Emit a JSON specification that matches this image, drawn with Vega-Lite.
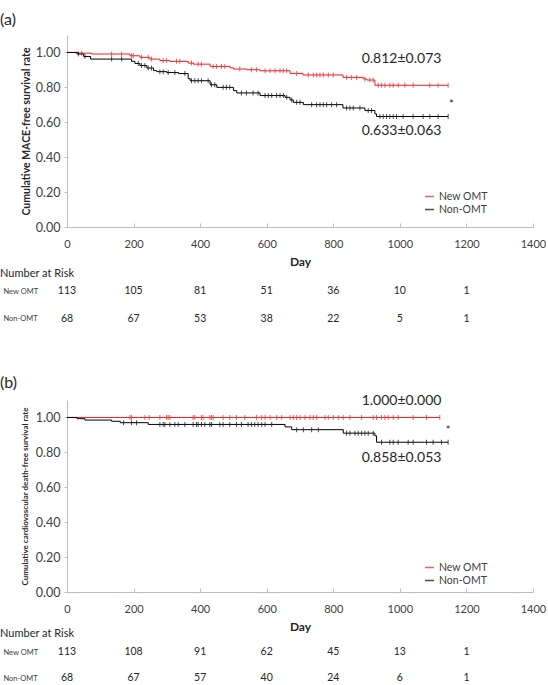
{
  "$schema": "https://vega.github.io/schema/vega-lite/v6.json",
  "padding": {"left": 0, "top": 12, "right": 0, "bottom": 0},
  "config": {
    "font": "Lato",
    "view": {"stroke": null},
    "axis": {"grid": false, "domainColor": "#bfbfbf", "tickColor": "#bfbfbf", "labelColor": "#404040", "titleColor": "#262626", "labelFont": "Lato", "titleFont": "Lato"},
    "title": {"font": "Lato", "color": "#262626", "fontWeight": "normal"},
    "legend": {"labelFont": "Lato"}
  },
  "datasets": {
    "km": [
      {"panel": "a", "group": "New OMT", "day": 0, "surv": 1.0, "censored": 0},
      {"panel": "a", "group": "New OMT", "day": 34, "surv": 0.996, "censored": 0},
      {"panel": "a", "group": "New OMT", "day": 44, "surv": 0.996, "censored": 1},
      {"panel": "a", "group": "New OMT", "day": 74, "surv": 0.991, "censored": 0},
      {"panel": "a", "group": "New OMT", "day": 134, "surv": 0.991, "censored": 1},
      {"panel": "a", "group": "New OMT", "day": 164, "surv": 0.991, "censored": 1},
      {"panel": "a", "group": "New OMT", "day": 189, "surv": 0.981, "censored": 0},
      {"panel": "a", "group": "New OMT", "day": 194, "surv": 0.981, "censored": 1},
      {"panel": "a", "group": "New OMT", "day": 199, "surv": 0.981, "censored": 1},
      {"panel": "a", "group": "New OMT", "day": 219, "surv": 0.972, "censored": 0},
      {"panel": "a", "group": "New OMT", "day": 224, "surv": 0.972, "censored": 1},
      {"panel": "a", "group": "New OMT", "day": 244, "surv": 0.972, "censored": 1},
      {"panel": "a", "group": "New OMT", "day": 249, "surv": 0.962, "censored": 0},
      {"panel": "a", "group": "New OMT", "day": 254, "surv": 0.962, "censored": 1},
      {"panel": "a", "group": "New OMT", "day": 279, "surv": 0.954, "censored": 0},
      {"panel": "a", "group": "New OMT", "day": 289, "surv": 0.954, "censored": 1},
      {"panel": "a", "group": "New OMT", "day": 299, "surv": 0.954, "censored": 1},
      {"panel": "a", "group": "New OMT", "day": 309, "surv": 0.949, "censored": 0},
      {"panel": "a", "group": "New OMT", "day": 329, "surv": 0.949, "censored": 1},
      {"panel": "a", "group": "New OMT", "day": 339, "surv": 0.949, "censored": 1},
      {"panel": "a", "group": "New OMT", "day": 364, "surv": 0.939, "censored": 0},
      {"panel": "a", "group": "New OMT", "day": 374, "surv": 0.939, "censored": 1},
      {"panel": "a", "group": "New OMT", "day": 380, "surv": 0.933, "censored": 0},
      {"panel": "a", "group": "New OMT", "day": 394, "surv": 0.933, "censored": 1},
      {"panel": "a", "group": "New OMT", "day": 404, "surv": 0.933, "censored": 1},
      {"panel": "a", "group": "New OMT", "day": 430, "surv": 0.92, "censored": 0},
      {"panel": "a", "group": "New OMT", "day": 439, "surv": 0.92, "censored": 1},
      {"panel": "a", "group": "New OMT", "day": 449, "surv": 0.92, "censored": 1},
      {"panel": "a", "group": "New OMT", "day": 464, "surv": 0.92, "censored": 1},
      {"panel": "a", "group": "New OMT", "day": 474, "surv": 0.92, "censored": 1},
      {"panel": "a", "group": "New OMT", "day": 490, "surv": 0.912, "censored": 0},
      {"panel": "a", "group": "New OMT", "day": 500, "surv": 0.905, "censored": 0},
      {"panel": "a", "group": "New OMT", "day": 519, "surv": 0.905, "censored": 1},
      {"panel": "a", "group": "New OMT", "day": 540, "surv": 0.901, "censored": 0},
      {"panel": "a", "group": "New OMT", "day": 554, "surv": 0.901, "censored": 1},
      {"panel": "a", "group": "New OMT", "day": 569, "surv": 0.901, "censored": 1},
      {"panel": "a", "group": "New OMT", "day": 580, "surv": 0.895, "censored": 0},
      {"panel": "a", "group": "New OMT", "day": 595, "surv": 0.895, "censored": 1},
      {"panel": "a", "group": "New OMT", "day": 610, "surv": 0.895, "censored": 1},
      {"panel": "a", "group": "New OMT", "day": 625, "surv": 0.895, "censored": 1},
      {"panel": "a", "group": "New OMT", "day": 640, "surv": 0.895, "censored": 1},
      {"panel": "a", "group": "New OMT", "day": 650, "surv": 0.895, "censored": 1},
      {"panel": "a", "group": "New OMT", "day": 660, "surv": 0.895, "censored": 1},
      {"panel": "a", "group": "New OMT", "day": 670, "surv": 0.88, "censored": 0},
      {"panel": "a", "group": "New OMT", "day": 690, "surv": 0.88, "censored": 1},
      {"panel": "a", "group": "New OMT", "day": 709, "surv": 0.871, "censored": 0},
      {"panel": "a", "group": "New OMT", "day": 725, "surv": 0.871, "censored": 1},
      {"panel": "a", "group": "New OMT", "day": 740, "surv": 0.871, "censored": 1},
      {"panel": "a", "group": "New OMT", "day": 750, "surv": 0.871, "censored": 1},
      {"panel": "a", "group": "New OMT", "day": 760, "surv": 0.871, "censored": 1},
      {"panel": "a", "group": "New OMT", "day": 770, "surv": 0.871, "censored": 1},
      {"panel": "a", "group": "New OMT", "day": 785, "surv": 0.871, "censored": 1},
      {"panel": "a", "group": "New OMT", "day": 800, "surv": 0.871, "censored": 1},
      {"panel": "a", "group": "New OMT", "day": 829, "surv": 0.857, "censored": 0},
      {"panel": "a", "group": "New OMT", "day": 840, "surv": 0.857, "censored": 1},
      {"panel": "a", "group": "New OMT", "day": 855, "surv": 0.857, "censored": 1},
      {"panel": "a", "group": "New OMT", "day": 870, "surv": 0.857, "censored": 1},
      {"panel": "a", "group": "New OMT", "day": 890, "surv": 0.848, "censored": 0},
      {"panel": "a", "group": "New OMT", "day": 895, "surv": 0.848, "censored": 1},
      {"panel": "a", "group": "New OMT", "day": 901, "surv": 0.842, "censored": 0},
      {"panel": "a", "group": "New OMT", "day": 910, "surv": 0.842, "censored": 1},
      {"panel": "a", "group": "New OMT", "day": 920, "surv": 0.842, "censored": 1},
      {"panel": "a", "group": "New OMT", "day": 925, "surv": 0.812, "censored": 0},
      {"panel": "a", "group": "New OMT", "day": 935, "surv": 0.812, "censored": 1},
      {"panel": "a", "group": "New OMT", "day": 945, "surv": 0.812, "censored": 1},
      {"panel": "a", "group": "New OMT", "day": 955, "surv": 0.812, "censored": 1},
      {"panel": "a", "group": "New OMT", "day": 970, "surv": 0.812, "censored": 1},
      {"panel": "a", "group": "New OMT", "day": 980, "surv": 0.812, "censored": 1},
      {"panel": "a", "group": "New OMT", "day": 995, "surv": 0.812, "censored": 1},
      {"panel": "a", "group": "New OMT", "day": 1015, "surv": 0.812, "censored": 1},
      {"panel": "a", "group": "New OMT", "day": 1040, "surv": 0.812, "censored": 1},
      {"panel": "a", "group": "New OMT", "day": 1090, "surv": 0.812, "censored": 1},
      {"panel": "a", "group": "New OMT", "day": 1115, "surv": 0.812, "censored": 1},
      {"panel": "a", "group": "New OMT", "day": 1145, "surv": 0.812, "censored": 1},

      {"panel": "a", "group": "Non-OMT", "day": 0, "surv": 1.0, "censored": 0},
      {"panel": "a", "group": "Non-OMT", "day": 30, "surv": 0.991, "censored": 0},
      {"panel": "a", "group": "Non-OMT", "day": 34, "surv": 0.991, "censored": 1},
      {"panel": "a", "group": "Non-OMT", "day": 50, "surv": 0.977, "censored": 0},
      {"panel": "a", "group": "Non-OMT", "day": 54, "surv": 0.977, "censored": 1},
      {"panel": "a", "group": "Non-OMT", "day": 71, "surv": 0.962, "censored": 0},
      {"panel": "a", "group": "Non-OMT", "day": 134, "surv": 0.962, "censored": 1},
      {"panel": "a", "group": "Non-OMT", "day": 164, "surv": 0.962, "censored": 1},
      {"panel": "a", "group": "Non-OMT", "day": 194, "surv": 0.949, "censored": 0},
      {"panel": "a", "group": "Non-OMT", "day": 204, "surv": 0.937, "censored": 0},
      {"panel": "a", "group": "Non-OMT", "day": 214, "surv": 0.937, "censored": 1},
      {"panel": "a", "group": "Non-OMT", "day": 219, "surv": 0.925, "censored": 0},
      {"panel": "a", "group": "Non-OMT", "day": 224, "surv": 0.925, "censored": 1},
      {"panel": "a", "group": "Non-OMT", "day": 234, "surv": 0.925, "censored": 1},
      {"panel": "a", "group": "Non-OMT", "day": 240, "surv": 0.911, "censored": 0},
      {"panel": "a", "group": "Non-OMT", "day": 244, "surv": 0.911, "censored": 1},
      {"panel": "a", "group": "Non-OMT", "day": 254, "surv": 0.911, "censored": 1},
      {"panel": "a", "group": "Non-OMT", "day": 260, "surv": 0.896, "censored": 0},
      {"panel": "a", "group": "Non-OMT", "day": 270, "surv": 0.89, "censored": 0},
      {"panel": "a", "group": "Non-OMT", "day": 279, "surv": 0.89, "censored": 1},
      {"panel": "a", "group": "Non-OMT", "day": 289, "surv": 0.89, "censored": 1},
      {"panel": "a", "group": "Non-OMT", "day": 300, "surv": 0.885, "censored": 0},
      {"panel": "a", "group": "Non-OMT", "day": 304, "surv": 0.885, "censored": 1},
      {"panel": "a", "group": "Non-OMT", "day": 324, "surv": 0.885, "censored": 1},
      {"panel": "a", "group": "Non-OMT", "day": 335, "surv": 0.879, "censored": 0},
      {"panel": "a", "group": "Non-OMT", "day": 354, "surv": 0.879, "censored": 1},
      {"panel": "a", "group": "Non-OMT", "day": 364, "surv": 0.85, "censored": 0},
      {"panel": "a", "group": "Non-OMT", "day": 370, "surv": 0.838, "censored": 0},
      {"panel": "a", "group": "Non-OMT", "day": 374, "surv": 0.838, "censored": 1},
      {"panel": "a", "group": "Non-OMT", "day": 384, "surv": 0.838, "censored": 1},
      {"panel": "a", "group": "Non-OMT", "day": 394, "surv": 0.838, "censored": 1},
      {"panel": "a", "group": "Non-OMT", "day": 404, "surv": 0.838, "censored": 1},
      {"panel": "a", "group": "Non-OMT", "day": 424, "surv": 0.838, "censored": 1},
      {"panel": "a", "group": "Non-OMT", "day": 430, "surv": 0.815, "censored": 0},
      {"panel": "a", "group": "Non-OMT", "day": 434, "surv": 0.815, "censored": 1},
      {"panel": "a", "group": "Non-OMT", "day": 444, "surv": 0.815, "censored": 1},
      {"panel": "a", "group": "Non-OMT", "day": 450, "surv": 0.8, "censored": 0},
      {"panel": "a", "group": "Non-OMT", "day": 469, "surv": 0.8, "censored": 1},
      {"panel": "a", "group": "Non-OMT", "day": 479, "surv": 0.8, "censored": 1},
      {"panel": "a", "group": "Non-OMT", "day": 489, "surv": 0.8, "censored": 1},
      {"panel": "a", "group": "Non-OMT", "day": 500, "surv": 0.781, "censored": 0},
      {"panel": "a", "group": "Non-OMT", "day": 510, "surv": 0.768, "censored": 0},
      {"panel": "a", "group": "Non-OMT", "day": 524, "surv": 0.768, "censored": 1},
      {"panel": "a", "group": "Non-OMT", "day": 539, "surv": 0.768, "censored": 1},
      {"panel": "a", "group": "Non-OMT", "day": 559, "surv": 0.768, "censored": 1},
      {"panel": "a", "group": "Non-OMT", "day": 574, "surv": 0.768, "censored": 1},
      {"panel": "a", "group": "Non-OMT", "day": 580, "surv": 0.753, "censored": 0},
      {"panel": "a", "group": "Non-OMT", "day": 595, "surv": 0.753, "censored": 1},
      {"panel": "a", "group": "Non-OMT", "day": 605, "surv": 0.753, "censored": 1},
      {"panel": "a", "group": "Non-OMT", "day": 615, "surv": 0.753, "censored": 1},
      {"panel": "a", "group": "Non-OMT", "day": 630, "surv": 0.753, "censored": 1},
      {"panel": "a", "group": "Non-OMT", "day": 640, "surv": 0.753, "censored": 1},
      {"panel": "a", "group": "Non-OMT", "day": 650, "surv": 0.753, "censored": 1},
      {"panel": "a", "group": "Non-OMT", "day": 655, "surv": 0.743, "censored": 0},
      {"panel": "a", "group": "Non-OMT", "day": 660, "surv": 0.743, "censored": 1},
      {"panel": "a", "group": "Non-OMT", "day": 670, "surv": 0.728, "censored": 0},
      {"panel": "a", "group": "Non-OMT", "day": 675, "surv": 0.728, "censored": 1},
      {"panel": "a", "group": "Non-OMT", "day": 680, "surv": 0.714, "censored": 0},
      {"panel": "a", "group": "Non-OMT", "day": 690, "surv": 0.714, "censored": 1},
      {"panel": "a", "group": "Non-OMT", "day": 700, "surv": 0.714, "censored": 1},
      {"panel": "a", "group": "Non-OMT", "day": 710, "surv": 0.701, "censored": 0},
      {"panel": "a", "group": "Non-OMT", "day": 735, "surv": 0.701, "censored": 1},
      {"panel": "a", "group": "Non-OMT", "day": 750, "surv": 0.701, "censored": 1},
      {"panel": "a", "group": "Non-OMT", "day": 760, "surv": 0.701, "censored": 1},
      {"panel": "a", "group": "Non-OMT", "day": 770, "surv": 0.701, "censored": 1},
      {"panel": "a", "group": "Non-OMT", "day": 780, "surv": 0.701, "censored": 1},
      {"panel": "a", "group": "Non-OMT", "day": 795, "surv": 0.701, "censored": 1},
      {"panel": "a", "group": "Non-OMT", "day": 810, "surv": 0.701, "censored": 1},
      {"panel": "a", "group": "Non-OMT", "day": 829, "surv": 0.682, "censored": 0},
      {"panel": "a", "group": "Non-OMT", "day": 840, "surv": 0.682, "censored": 1},
      {"panel": "a", "group": "Non-OMT", "day": 850, "surv": 0.682, "censored": 1},
      {"panel": "a", "group": "Non-OMT", "day": 860, "surv": 0.682, "censored": 1},
      {"panel": "a", "group": "Non-OMT", "day": 880, "surv": 0.682, "censored": 1},
      {"panel": "a", "group": "Non-OMT", "day": 895, "surv": 0.667, "censored": 0},
      {"panel": "a", "group": "Non-OMT", "day": 905, "surv": 0.667, "censored": 1},
      {"panel": "a", "group": "Non-OMT", "day": 915, "surv": 0.667, "censored": 1},
      {"panel": "a", "group": "Non-OMT", "day": 925, "surv": 0.648, "censored": 0},
      {"panel": "a", "group": "Non-OMT", "day": 930, "surv": 0.633, "censored": 0},
      {"panel": "a", "group": "Non-OMT", "day": 940, "surv": 0.633, "censored": 1},
      {"panel": "a", "group": "Non-OMT", "day": 950, "surv": 0.633, "censored": 1},
      {"panel": "a", "group": "Non-OMT", "day": 960, "surv": 0.633, "censored": 1},
      {"panel": "a", "group": "Non-OMT", "day": 970, "surv": 0.633, "censored": 1},
      {"panel": "a", "group": "Non-OMT", "day": 980, "surv": 0.633, "censored": 1},
      {"panel": "a", "group": "Non-OMT", "day": 990, "surv": 0.633, "censored": 1},
      {"panel": "a", "group": "Non-OMT", "day": 1010, "surv": 0.633, "censored": 1},
      {"panel": "a", "group": "Non-OMT", "day": 1040, "surv": 0.633, "censored": 1},
      {"panel": "a", "group": "Non-OMT", "day": 1070, "surv": 0.633, "censored": 1},
      {"panel": "a", "group": "Non-OMT", "day": 1090, "surv": 0.633, "censored": 1},
      {"panel": "a", "group": "Non-OMT", "day": 1115, "surv": 0.633, "censored": 1},
      {"panel": "a", "group": "Non-OMT", "day": 1145, "surv": 0.633, "censored": 1},

      {"panel": "b", "group": "New OMT", "day": 0, "surv": 1.0, "censored": 0},
      {"panel": "b", "group": "New OMT", "day": 189, "surv": 1.0, "censored": 1},
      {"panel": "b", "group": "New OMT", "day": 194, "surv": 1.0, "censored": 1},
      {"panel": "b", "group": "New OMT", "day": 234, "surv": 1.0, "censored": 1},
      {"panel": "b", "group": "New OMT", "day": 247, "surv": 1.0, "censored": 1},
      {"panel": "b", "group": "New OMT", "day": 279, "surv": 1.0, "censored": 1},
      {"panel": "b", "group": "New OMT", "day": 299, "surv": 1.0, "censored": 1},
      {"panel": "b", "group": "New OMT", "day": 304, "surv": 1.0, "censored": 1},
      {"panel": "b", "group": "New OMT", "day": 309, "surv": 1.0, "censored": 1},
      {"panel": "b", "group": "New OMT", "day": 379, "surv": 1.0, "censored": 1},
      {"panel": "b", "group": "New OMT", "day": 384, "surv": 1.0, "censored": 1},
      {"panel": "b", "group": "New OMT", "day": 404, "surv": 1.0, "censored": 1},
      {"panel": "b", "group": "New OMT", "day": 409, "surv": 1.0, "censored": 1},
      {"panel": "b", "group": "New OMT", "day": 429, "surv": 1.0, "censored": 1},
      {"panel": "b", "group": "New OMT", "day": 434, "surv": 1.0, "censored": 1},
      {"panel": "b", "group": "New OMT", "day": 439, "surv": 1.0, "censored": 1},
      {"panel": "b", "group": "New OMT", "day": 469, "surv": 1.0, "censored": 1},
      {"panel": "b", "group": "New OMT", "day": 489, "surv": 1.0, "censored": 1},
      {"panel": "b", "group": "New OMT", "day": 509, "surv": 1.0, "censored": 1},
      {"panel": "b", "group": "New OMT", "day": 534, "surv": 1.0, "censored": 1},
      {"panel": "b", "group": "New OMT", "day": 569, "surv": 1.0, "censored": 1},
      {"panel": "b", "group": "New OMT", "day": 585, "surv": 1.0, "censored": 1},
      {"panel": "b", "group": "New OMT", "day": 595, "surv": 1.0, "censored": 1},
      {"panel": "b", "group": "New OMT", "day": 610, "surv": 1.0, "censored": 1},
      {"panel": "b", "group": "New OMT", "day": 630, "surv": 1.0, "censored": 1},
      {"panel": "b", "group": "New OMT", "day": 645, "surv": 1.0, "censored": 1},
      {"panel": "b", "group": "New OMT", "day": 670, "surv": 1.0, "censored": 1},
      {"panel": "b", "group": "New OMT", "day": 680, "surv": 1.0, "censored": 1},
      {"panel": "b", "group": "New OMT", "day": 690, "surv": 1.0, "censored": 1},
      {"panel": "b", "group": "New OMT", "day": 700, "surv": 1.0, "censored": 1},
      {"panel": "b", "group": "New OMT", "day": 715, "surv": 1.0, "censored": 1},
      {"panel": "b", "group": "New OMT", "day": 730, "surv": 1.0, "censored": 1},
      {"panel": "b", "group": "New OMT", "day": 740, "surv": 1.0, "censored": 1},
      {"panel": "b", "group": "New OMT", "day": 750, "surv": 1.0, "censored": 1},
      {"panel": "b", "group": "New OMT", "day": 775, "surv": 1.0, "censored": 1},
      {"panel": "b", "group": "New OMT", "day": 785, "surv": 1.0, "censored": 1},
      {"panel": "b", "group": "New OMT", "day": 800, "surv": 1.0, "censored": 1},
      {"panel": "b", "group": "New OMT", "day": 815, "surv": 1.0, "censored": 1},
      {"panel": "b", "group": "New OMT", "day": 830, "surv": 1.0, "censored": 1},
      {"panel": "b", "group": "New OMT", "day": 850, "surv": 1.0, "censored": 1},
      {"panel": "b", "group": "New OMT", "day": 885, "surv": 1.0, "censored": 1},
      {"panel": "b", "group": "New OMT", "day": 920, "surv": 1.0, "censored": 1},
      {"panel": "b", "group": "New OMT", "day": 930, "surv": 1.0, "censored": 1},
      {"panel": "b", "group": "New OMT", "day": 945, "surv": 1.0, "censored": 1},
      {"panel": "b", "group": "New OMT", "day": 955, "surv": 1.0, "censored": 1},
      {"panel": "b", "group": "New OMT", "day": 965, "surv": 1.0, "censored": 1},
      {"panel": "b", "group": "New OMT", "day": 980, "surv": 1.0, "censored": 1},
      {"panel": "b", "group": "New OMT", "day": 995, "surv": 1.0, "censored": 1},
      {"panel": "b", "group": "New OMT", "day": 1040, "surv": 1.0, "censored": 1},
      {"panel": "b", "group": "New OMT", "day": 1080, "surv": 1.0, "censored": 1},
      {"panel": "b", "group": "New OMT", "day": 1120, "surv": 1.0, "censored": 1},

      {"panel": "b", "group": "Non-OMT", "day": 0, "surv": 1.0, "censored": 0},
      {"panel": "b", "group": "Non-OMT", "day": 30, "surv": 0.993, "censored": 0},
      {"panel": "b", "group": "Non-OMT", "day": 54, "surv": 0.985, "censored": 0},
      {"panel": "b", "group": "Non-OMT", "day": 134, "surv": 0.978, "censored": 0},
      {"panel": "b", "group": "Non-OMT", "day": 160, "surv": 0.97, "censored": 0},
      {"panel": "b", "group": "Non-OMT", "day": 170, "surv": 0.97, "censored": 1},
      {"panel": "b", "group": "Non-OMT", "day": 194, "surv": 0.97, "censored": 1},
      {"panel": "b", "group": "Non-OMT", "day": 209, "surv": 0.97, "censored": 1},
      {"panel": "b", "group": "Non-OMT", "day": 244, "surv": 0.96, "censored": 0},
      {"panel": "b", "group": "Non-OMT", "day": 279, "surv": 0.96, "censored": 1},
      {"panel": "b", "group": "Non-OMT", "day": 289, "surv": 0.96, "censored": 1},
      {"panel": "b", "group": "Non-OMT", "day": 294, "surv": 0.96, "censored": 1},
      {"panel": "b", "group": "Non-OMT", "day": 309, "surv": 0.96, "censored": 1},
      {"panel": "b", "group": "Non-OMT", "day": 324, "surv": 0.96, "censored": 1},
      {"panel": "b", "group": "Non-OMT", "day": 334, "surv": 0.96, "censored": 1},
      {"panel": "b", "group": "Non-OMT", "day": 354, "surv": 0.96, "censored": 1},
      {"panel": "b", "group": "Non-OMT", "day": 379, "surv": 0.96, "censored": 1},
      {"panel": "b", "group": "Non-OMT", "day": 389, "surv": 0.96, "censored": 1},
      {"panel": "b", "group": "Non-OMT", "day": 394, "surv": 0.96, "censored": 1},
      {"panel": "b", "group": "Non-OMT", "day": 404, "surv": 0.96, "censored": 1},
      {"panel": "b", "group": "Non-OMT", "day": 414, "surv": 0.96, "censored": 1},
      {"panel": "b", "group": "Non-OMT", "day": 429, "surv": 0.96, "censored": 1},
      {"panel": "b", "group": "Non-OMT", "day": 434, "surv": 0.96, "censored": 1},
      {"panel": "b", "group": "Non-OMT", "day": 459, "surv": 0.96, "censored": 1},
      {"panel": "b", "group": "Non-OMT", "day": 469, "surv": 0.96, "censored": 1},
      {"panel": "b", "group": "Non-OMT", "day": 489, "surv": 0.96, "censored": 1},
      {"panel": "b", "group": "Non-OMT", "day": 509, "surv": 0.96, "censored": 1},
      {"panel": "b", "group": "Non-OMT", "day": 524, "surv": 0.96, "censored": 1},
      {"panel": "b", "group": "Non-OMT", "day": 544, "surv": 0.96, "censored": 1},
      {"panel": "b", "group": "Non-OMT", "day": 554, "surv": 0.96, "censored": 1},
      {"panel": "b", "group": "Non-OMT", "day": 564, "surv": 0.96, "censored": 1},
      {"panel": "b", "group": "Non-OMT", "day": 574, "surv": 0.96, "censored": 1},
      {"panel": "b", "group": "Non-OMT", "day": 585, "surv": 0.96, "censored": 1},
      {"panel": "b", "group": "Non-OMT", "day": 595, "surv": 0.96, "censored": 1},
      {"panel": "b", "group": "Non-OMT", "day": 615, "surv": 0.96, "censored": 1},
      {"panel": "b", "group": "Non-OMT", "day": 655, "surv": 0.946, "censored": 0},
      {"panel": "b", "group": "Non-OMT", "day": 675, "surv": 0.93, "censored": 0},
      {"panel": "b", "group": "Non-OMT", "day": 690, "surv": 0.93, "censored": 1},
      {"panel": "b", "group": "Non-OMT", "day": 710, "surv": 0.93, "censored": 1},
      {"panel": "b", "group": "Non-OMT", "day": 735, "surv": 0.93, "censored": 1},
      {"panel": "b", "group": "Non-OMT", "day": 755, "surv": 0.93, "censored": 1},
      {"panel": "b", "group": "Non-OMT", "day": 830, "surv": 0.91, "censored": 0},
      {"panel": "b", "group": "Non-OMT", "day": 840, "surv": 0.91, "censored": 1},
      {"panel": "b", "group": "Non-OMT", "day": 850, "surv": 0.91, "censored": 1},
      {"panel": "b", "group": "Non-OMT", "day": 865, "surv": 0.91, "censored": 1},
      {"panel": "b", "group": "Non-OMT", "day": 875, "surv": 0.91, "censored": 1},
      {"panel": "b", "group": "Non-OMT", "day": 885, "surv": 0.91, "censored": 1},
      {"panel": "b", "group": "Non-OMT", "day": 895, "surv": 0.91, "censored": 1},
      {"panel": "b", "group": "Non-OMT", "day": 905, "surv": 0.91, "censored": 1},
      {"panel": "b", "group": "Non-OMT", "day": 920, "surv": 0.91, "censored": 1},
      {"panel": "b", "group": "Non-OMT", "day": 925, "surv": 0.895, "censored": 0},
      {"panel": "b", "group": "Non-OMT", "day": 930, "surv": 0.858, "censored": 0},
      {"panel": "b", "group": "Non-OMT", "day": 945, "surv": 0.858, "censored": 1},
      {"panel": "b", "group": "Non-OMT", "day": 970, "surv": 0.858, "censored": 1},
      {"panel": "b", "group": "Non-OMT", "day": 980, "surv": 0.858, "censored": 1},
      {"panel": "b", "group": "Non-OMT", "day": 995, "surv": 0.858, "censored": 1},
      {"panel": "b", "group": "Non-OMT", "day": 1025, "surv": 0.858, "censored": 1},
      {"panel": "b", "group": "Non-OMT", "day": 1040, "surv": 0.858, "censored": 1},
      {"panel": "b", "group": "Non-OMT", "day": 1080, "surv": 0.858, "censored": 1},
      {"panel": "b", "group": "Non-OMT", "day": 1100, "surv": 0.858, "censored": 1},
      {"panel": "b", "group": "Non-OMT", "day": 1125, "surv": 0.858, "censored": 1},
      {"panel": "b", "group": "Non-OMT", "day": 1145, "surv": 0.858, "censored": 1}
    ],
    "risk": [
      {"panel": "a", "group": "New OMT", "day": 0, "n": 113},
      {"panel": "a", "group": "New OMT", "day": 200, "n": 105},
      {"panel": "a", "group": "New OMT", "day": 400, "n": 81},
      {"panel": "a", "group": "New OMT", "day": 600, "n": 51},
      {"panel": "a", "group": "New OMT", "day": 800, "n": 36},
      {"panel": "a", "group": "New OMT", "day": 1000, "n": 10},
      {"panel": "a", "group": "New OMT", "day": 1200, "n": 1},
      {"panel": "a", "group": "Non-OMT", "day": 0, "n": 68},
      {"panel": "a", "group": "Non-OMT", "day": 200, "n": 67},
      {"panel": "a", "group": "Non-OMT", "day": 400, "n": 53},
      {"panel": "a", "group": "Non-OMT", "day": 600, "n": 38},
      {"panel": "a", "group": "Non-OMT", "day": 800, "n": 22},
      {"panel": "a", "group": "Non-OMT", "day": 1000, "n": 5},
      {"panel": "a", "group": "Non-OMT", "day": 1200, "n": 1},
      {"panel": "b", "group": "New OMT", "day": 0, "n": 113},
      {"panel": "b", "group": "New OMT", "day": 200, "n": 108},
      {"panel": "b", "group": "New OMT", "day": 400, "n": 91},
      {"panel": "b", "group": "New OMT", "day": 600, "n": 62},
      {"panel": "b", "group": "New OMT", "day": 800, "n": 45},
      {"panel": "b", "group": "New OMT", "day": 1000, "n": 13},
      {"panel": "b", "group": "New OMT", "day": 1200, "n": 1},
      {"panel": "b", "group": "Non-OMT", "day": 0, "n": 68},
      {"panel": "b", "group": "Non-OMT", "day": 200, "n": 67},
      {"panel": "b", "group": "Non-OMT", "day": 400, "n": 57},
      {"panel": "b", "group": "Non-OMT", "day": 600, "n": 40},
      {"panel": "b", "group": "Non-OMT", "day": 800, "n": 24},
      {"panel": "b", "group": "Non-OMT", "day": 1000, "n": 6},
      {"panel": "b", "group": "Non-OMT", "day": 1200, "n": 1}
    ],
    "notes": [
      {"panel": "a", "group": "New OMT", "day": 1005, "surv": 0.812, "label": "0.812±0.073"},
      {"panel": "a", "group": "Non-OMT", "day": 1005, "surv": 0.633, "label": "0.633±0.063"},
      {"panel": "a", "group": "both", "day": 1155, "surv": 0.7, "label": "*"},
      {"panel": "b", "group": "New OMT", "day": 1005, "surv": 1.0, "label": "1.000±0.000"},
      {"panel": "b", "group": "Non-OMT", "day": 1005, "surv": 0.858, "label": "0.858±0.053"},
      {"panel": "b", "group": "both", "day": 1145, "surv": 0.92, "label": "*"}
    ]
  },
  "bounds": "flush",
  "spacing": 47,
  "resolve": {"scale": {"color": "independent"}, "legend": {"color": "independent"}},
  "vconcat": [
    {
      "width": 466,
      "height": 192,
      "title": {"text": "(a)", "anchor": "start", "frame": "group", "dx": -67, "offset": -6, "baseline": "alphabetic", "fontSize": 16},
      "encoding": {
        "x": {"field": "day", "type": "quantitative", "scale": {"domain": [0, 1400], "nice": false},
          "axis": {"values": [0, 200, 400, 600, 800, 1000, 1200, 1400], "format": "d", "title": "Day", "titleFontSize": 12, "titleFontWeight": "bold", "titlePadding": 7, "labelFontSize": 11, "tickSize": -4, "labelPadding": 15, "labelFlush": false, "labelOverlap": false}},
        "y": {"field": "surv", "type": "quantitative", "scale": {"domain": [0, 1.1], "nice": false},
          "axis": {"values": [0, 0.2, 0.4, 0.6, 0.8, 1.0], "format": ".2f", "title": "Cumulative MACE-free survival rate", "titleFontSize": 10.5, "titleFontWeight": "bold", "titlePadding": 4, "labelFontSize": 12.5, "tickSize": 3, "labelPadding": 4}}
      },
      "layer": [
        {
          "data": {"name": "km"},
          "transform": [{"filter": "datum.panel === 'a'"}],
          "mark": {"type": "line", "interpolate": "step-after", "strokeWidth": 1},
          "encoding": {
            "color": {"field": "group", "type": "nominal", "scale": {"domain": ["New OMT", "Non-OMT"], "range": ["#f01e1e", "#000000"]},
              "legend": {"orient": "none", "legendX": 357, "legendY": 156, "title": null, "symbolType": "stroke", "symbolSize": 80, "symbolStrokeWidth": 1.5, "labelFontSize": 10.5, "labelColor": "#404040", "rowPadding": 2, "labelOffset": 4, "padding": 0}}
          }
        },
        {
          "data": {"name": "km"},
          "transform": [{"filter": "datum.panel === 'a' && datum.censored === 1"}],
          "mark": {"type": "tick", "orient": "vertical", "size": 5, "thickness": 1},
          "encoding": {
            "color": {"field": "group", "type": "nominal", "scale": {"domain": ["New OMT", "Non-OMT"], "range": ["#f01e1e", "#000000"]},
              "legend": {"orient": "none", "legendX": 357, "legendY": 156, "title": null, "symbolType": "stroke", "symbolSize": 80, "symbolStrokeWidth": 1.5, "labelFontSize": 10.5, "labelColor": "#404040", "rowPadding": 2, "labelOffset": 4, "padding": 0}}
          }
        },
        {
          "data": {"name": "notes"},
          "transform": [{"filter": "datum.panel === 'a' && datum.group === 'New OMT'"}],
          "mark": {"type": "text", "fontSize": 14, "color": "#262626", "dy": -26},
          "encoding": {"text": {"field": "label"}}
        },
        {
          "data": {"name": "notes"},
          "transform": [{"filter": "datum.panel === 'a' && datum.group === 'Non-OMT'"}],
          "mark": {"type": "text", "fontSize": 14, "color": "#262626", "dy": 14.5},
          "encoding": {"text": {"field": "label"}}
        },
        {
          "data": {"name": "notes"},
          "transform": [{"filter": "datum.panel === 'a' && datum.group === 'both'"}],
          "mark": {"type": "text", "fontSize": 11, "color": "#262626"},
          "encoding": {"text": {"field": "label"}}
        }
      ]
    },
    {
      "width": 466,
      "height": 79,
      "title": {"text": "Number at Risk", "anchor": "start", "frame": "group", "dx": -67, "offset": -11, "baseline": "middle", "fontSize": 11},
      "data": {"name": "risk"},
      "transform": [{"filter": "datum.panel === 'a'"}],
      "mark": {"type": "text", "fontSize": 10.5, "color": "#262626"},
      "encoding": {
        "x": {"field": "day", "type": "quantitative", "scale": {"domain": [0, 1400], "nice": false}, "axis": null},
        "y": {"field": "group", "type": "ordinal", "sort": ["New OMT", "Non-OMT"], "scale": {"type": "point", "padding": 0.952, "align": 0.336},
          "axis": {"title": null, "domain": false, "ticks": false, "tickSize": 0, "labelAlign": "left", "labelPadding": 64, "labelFontSize": 7.5, "labelColor": "#404040"}},
        "text": {"field": "n", "type": "quantitative"}
      }
    },
    {
      "width": 466,
      "height": 192,
      "title": {"text": "(b)", "anchor": "start", "frame": "group", "dx": -67, "offset": -9.5, "baseline": "alphabetic", "fontSize": 16},
      "encoding": {
        "x": {"field": "day", "type": "quantitative", "scale": {"domain": [0, 1400], "nice": false},
          "axis": {"values": [0, 200, 400, 600, 800, 1000, 1200, 1400], "format": "d", "title": "Day", "titleFontSize": 12, "titleFontWeight": "bold", "titlePadding": 7, "labelFontSize": 11, "tickSize": -4, "labelPadding": 15, "labelFlush": false, "labelOverlap": false}},
        "y": {"field": "surv", "type": "quantitative", "scale": {"domain": [0, 1.1], "nice": false},
          "axis": {"values": [0, 0.2, 0.4, 0.6, 0.8, 1.0], "format": ".2f", "title": "Cumulative cardiovascular death-free survival rate", "titleFontSize": 8, "titleFontWeight": "bold", "titlePadding": 6, "labelFontSize": 12.5, "tickSize": 3, "labelPadding": 4}}
      },
      "layer": [
        {
          "data": {"name": "km"},
          "transform": [{"filter": "datum.panel === 'b'"}],
          "mark": {"type": "line", "interpolate": "step-after", "strokeWidth": 1},
          "encoding": {
            "color": {"field": "group", "type": "nominal", "scale": {"domain": ["New OMT", "Non-OMT"], "range": ["#f01e1e", "#000000"]},
              "legend": {"orient": "none", "legendX": 357, "legendY": 162, "title": null, "symbolType": "stroke", "symbolSize": 80, "symbolStrokeWidth": 1.5, "labelFontSize": 10.5, "labelColor": "#404040", "rowPadding": 2, "labelOffset": 4, "padding": 0}}
          }
        },
        {
          "data": {"name": "km"},
          "transform": [{"filter": "datum.panel === 'b' && datum.censored === 1"}],
          "mark": {"type": "tick", "orient": "vertical", "size": 5, "thickness": 1},
          "encoding": {
            "color": {"field": "group", "type": "nominal", "scale": {"domain": ["New OMT", "Non-OMT"], "range": ["#f01e1e", "#000000"]},
              "legend": {"orient": "none", "legendX": 357, "legendY": 162, "title": null, "symbolType": "stroke", "symbolSize": 80, "symbolStrokeWidth": 1.5, "labelFontSize": 10.5, "labelColor": "#404040", "rowPadding": 2, "labelOffset": 4, "padding": 0}}
          }
        },
        {
          "data": {"name": "notes"},
          "transform": [{"filter": "datum.panel === 'b' && datum.group === 'New OMT'"}],
          "mark": {"type": "text", "fontSize": 14, "color": "#262626", "dy": -16},
          "encoding": {"text": {"field": "label"}}
        },
        {
          "data": {"name": "notes"},
          "transform": [{"filter": "datum.panel === 'b' && datum.group === 'Non-OMT'"}],
          "mark": {"type": "text", "fontSize": 14, "color": "#262626", "dy": 16},
          "encoding": {"text": {"field": "label"}}
        },
        {
          "data": {"name": "notes"},
          "transform": [{"filter": "datum.panel === 'b' && datum.group === 'both'"}],
          "mark": {"type": "text", "fontSize": 11, "color": "#262626"},
          "encoding": {"text": {"field": "label"}}
        }
      ]
    },
    {
      "width": 466,
      "height": 52,
      "title": {"text": "Number at Risk", "anchor": "start", "frame": "group", "dx": -67, "offset": -5.6, "baseline": "middle", "fontSize": 11},
      "data": {"name": "risk"},
      "transform": [{"filter": "datum.panel === 'b'"}],
      "mark": {"type": "text", "fontSize": 10.5, "color": "#262626"},
      "encoding": {
        "x": {"field": "day", "type": "quantitative", "scale": {"domain": [0, 1400], "nice": false}, "axis": null},
        "y": {"field": "group", "type": "ordinal", "sort": ["New OMT", "Non-OMT"], "scale": {"type": "point", "padding": 0.5, "align": 0.5},
          "axis": {"title": null, "domain": false, "ticks": false, "tickSize": 0, "labelAlign": "left", "labelPadding": 64, "labelFontSize": 7.5, "labelColor": "#404040"}},
        "text": {"field": "n", "type": "quantitative"}
      }
    }
  ]
}
